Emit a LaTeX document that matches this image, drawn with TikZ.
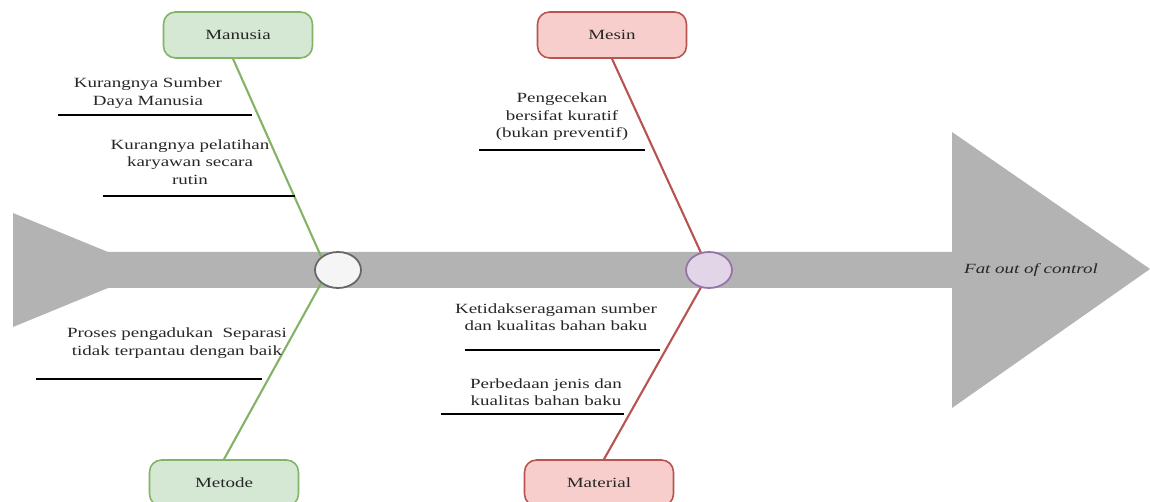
\documentclass[tikz,border=0pt]{standalone}
\usepackage{fontspec}
\setmainfont{Liberation Serif}[FakeStretch=1.35]
\usepackage[rgb]{xcolor}
\usepackage{tikz}
\usetikzlibrary{shapes.geometric}

\definecolor{spinegray}{HTML}{B3B3B3}
\definecolor{txtgray}{HTML}{262626}
\definecolor{greenfill}{HTML}{D5E8D4}
\definecolor{greenline}{HTML}{82B366}
\definecolor{redfill}{HTML}{F8CECC}
\definecolor{redline}{HTML}{B85450}
\definecolor{purplefill}{HTML}{E1D5E7}
\definecolor{purpleline}{HTML}{9673A6}
\definecolor{whitefill}{HTML}{F5F5F5}
\definecolor{circleline}{HTML}{666666}

\begin{document}
\begin{tikzpicture}[x=0.02cm, y=-0.02cm,
  catbox/.style={draw, rounded corners=0.24cm, line width=0.9pt,
    minimum width=2.98cm, minimum height=0.92cm, inner sep=0pt,
    font=\fontsize{8}{10}\selectfont, text=txtgray},
  joint/.style={ellipse, draw, line width=1pt, minimum width=0.92cm,
    minimum height=0.72cm, inner sep=0pt},
  cause/.style={align=center, font=\fontsize{8}{10}\selectfont, text=txtgray},
  twig/.style={black, line width=1.4pt},
  bone/.style={line width=1.2pt}]

\useasboundingbox (0,0) rectangle (1150,502);

% fishbone of fat out of control, man and method in green, machine and material in red

%% spine with tail and head
\fill[spinegray] (13,213) -- (108,252) -- (952,252) -- (952,132) -- (1150,269)
  -- (952,408) -- (952,288) -- (108,288) -- (13,327) -- cycle;

\path
(1031,270) node[cause, font=\fontsize{8}{10}\selectfont\itshape] (effect){Fat out of control};

%% joints on the spine
\path
(338,270) node[joint, fill=whitefill, draw=circleline] (jointA){}
(709,270) node[joint, fill=purplefill, draw=purpleline] (jointB){};

%% category boxes
\path
(238,35) node[catbox, fill=greenfill, draw=greenline] (manusia){Manusia}
(224,483) node[catbox, fill=greenfill, draw=greenline] (metode){Metode}
(612,35) node[catbox, fill=redfill, draw=redline] (mesin){Mesin}
(599,483) node[catbox, fill=redfill, draw=redline] (material){Material};

\draw[bone, greenline] ([xshift=-0.1cm]manusia.south) -- (jointA.north west);
\draw[bone, greenline] (metode.north) -- (jointA.south west);
\draw[bone, redline] (mesin.south) -- (jointB.115);
\draw[bone, redline] ([xshift=0.1cm]material.north) -- (jointB.245);

%% causes
 \foreach \xa/\xb/\y in {58/252/115, 103/295/196, 36/262/379, 479/645/150, 465/660/350, 441/624/414}
  {
  \draw[twig] (\xa,\y) -- (\xb,\y);
  }

\path
(148,93) node[cause] (sdm){Kurangnya Sumber\\Daya Manusia}
(190,162) node[cause] (pelatihan){Kurangnya pelatihan\\karyawan secara\\rutin}
(177,343) node[cause] (pengadukan){Proses pengadukan\ \ Separasi\\tidak terpantau dengan baik}
(562,117) node[cause] (pengecekan){Pengecekan\\bersifat kuratif\\(bukan preventif)}
(556,317) node[cause] (keseragaman){Ketidakseragaman sumber\\dan kualitas bahan baku}
(546,392) node[cause] (perbedaan){Perbedaan jenis dan\\kualitas bahan baku};

\end{tikzpicture}
\end{document}
